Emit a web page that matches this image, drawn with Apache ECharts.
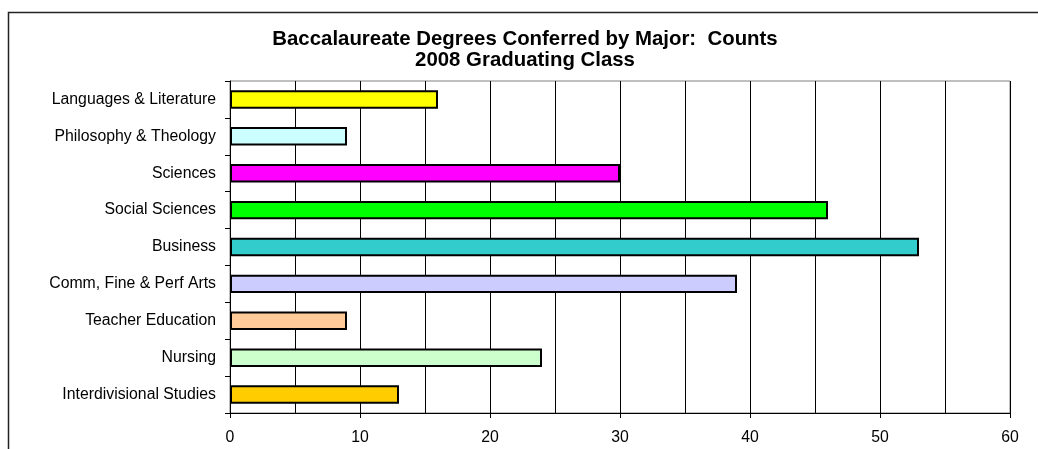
<!DOCTYPE html>
<html>
<head>
<meta charset="utf-8">
<script src="https://cdn.jsdelivr.net/npm/echarts@6/dist/echarts.min.js"></script>
<style>
  html, body { margin: 0; padding: 0; background: #fff; }
  #chart { width: 1038px; height: 449px; }
</style>
</head>
<body>
<div id="chart"></div>
<script>
// categories top to bottom
const majors = [
    'Languages & Literature',
    'Philosophy & Theology',
    'Sciences',
    'Social Sciences',
    'Business',
    'Comm, Fine & Perf Arts',
    'Teacher Education',
    'Nursing',
    'Interdivisional Studies'
];
const counts = [16, 9, 30, 46, 53, 39, 9, 24, 13];
const barColors = ['#FFFF00', '#CCFFFF', '#FF00FF', '#00FF00', '#33CCCC', '#CCCCFF', '#FFCC99', '#CCFFCC', '#FFCC00'];

const chart = echarts.init(document.getElementById('chart'));
chart.setOption({
    backgroundColor: '#fff',
    animation: false,
    textStyle: { fontFamily: 'Liberation Sans, Arial, sans-serif' },
    title: {
        text: 'Baccalaureate Degrees Conferred by Major:  Counts\n2008 Graduating Class',
        left: 520,
        top: 24,
        textAlign: 'center',
        textStyle: { fontSize: 20.4, fontWeight: 'bold', color: '#000', lineHeight: 21 }
    },
    grid: {
        left: 230, right: 28, top: 81, bottom: 36,
        show: true, borderColor: '#808080', borderWidth: 1
    },
    xAxis: {
        type: 'value',
        min: 0,
        max: 60,
        interval: 10,
        axisLine: { show: true, lineStyle: { color: '#000' } },
        axisTick: { show: true, length: 5, lineStyle: { color: '#000' } },
        axisLabel: { color: '#000', fontSize: 15.8, margin: 17 },
        splitLine: { show: true, lineStyle: { color: '#000', width: 1 } },
        minorTick: { show: false, splitNumber: 2 },
        minorSplitLine: { show: true, lineStyle: { color: '#000', width: 1 } }
    },
    yAxis: {
        type: 'category',
        data: majors,
        inverse: true,
        axisLine: { show: true, lineStyle: { color: '#000' } },
        axisTick: { show: true, length: 5, lineStyle: { color: '#000' } },
        axisLabel: { color: '#000', fontSize: 15.8, margin: 14 }
    },
    series: [{
        type: 'bar',
        data: counts.map((v, i) => ({ value: v, itemStyle: { color: barColors[i] } })),
        barWidth: '50%',
        itemStyle: { borderColor: '#000', borderWidth: 2 }
    }],
    graphic: [{
        type: 'rect',
        left: 6, top: 10,
        shape: { width: 1100, height: 500 },
        style: { fill: null, stroke: '#222', lineWidth: 1.5 },
        silent: true
    }]
});
</script>
</body>
</html>
